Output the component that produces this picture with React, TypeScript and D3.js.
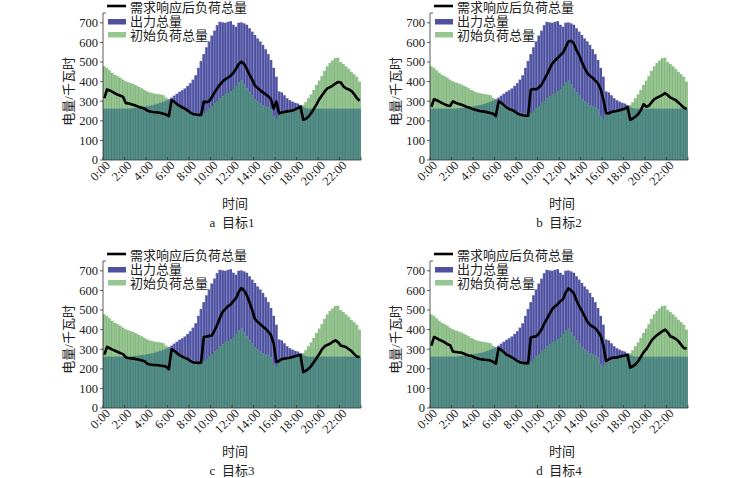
import React from 'react';
import * as d3 from 'd3';

// 96 quarter-hour slots, one row per two hours
const timeLabels = ['0:00', '2:00', '4:00', '6:00', '8:00', '10:00', '12:00', '14:00', '16:00', '18:00', '20:00', '22:00'];
const yTicks = [0, 100, 200, 300, 400, 500, 600, 700];
const legendLabels = ['需求响应后负荷总量', '出力总量', '初始负荷总量'];
const captions = ['a  目标1', 'b  目标2', 'c  目标3', 'd  目标4'];

// 出力总量
const supplyTotal = [
  262, 262, 262, 262, 262, 262, 262, 262,
  262, 262, 263, 265, 266, 268, 270, 272,
  275, 277, 280, 283, 287, 292, 297, 303,
  310, 318, 328, 338, 348, 356, 365, 378,
  392, 410, 432, 470, 505, 540, 575, 605,
  635, 660, 688, 705, 702, 700, 705, 708,
  690, 680, 700, 702, 697, 690, 672, 655,
  638, 620, 605, 587, 565, 540, 510, 470,
  425, 350, 345, 330, 315, 305, 298, 292,
  288, 280, 272, 265, 262, 262, 262, 262,
  262, 262, 262, 262, 262, 262, 262, 262,
  262, 262, 262, 262, 262, 262, 262, 262,
];

// 初始负荷总量
const initialLoad = [
  478, 470, 458, 445, 435, 428, 420, 410,
  402, 396, 392, 387, 380, 373, 366, 357,
  350, 345, 341, 338, 336, 334, 331, 318,
  305, 298, 292, 285, 278, 270, 262, 255,
  248, 242, 236, 233, 235, 240, 250, 262,
  275, 288, 298, 315, 325, 335, 342, 352,
  362, 378, 395, 405, 385, 365, 345, 330,
  310, 298, 288, 280, 275, 268, 258, 225,
  210, 230, 238, 242, 248, 252, 256, 260,
  266, 272, 280, 295, 315, 335, 358, 383,
  405, 428, 455, 478, 495, 508, 520, 522,
  500, 490, 478, 465, 450, 438, 425, 400,
];

// 需求响应后负荷总量, one series per objective
const responseA = [
  316, 360, 355, 348, 340, 333, 328, 322,
  290, 288, 285, 281, 276, 270, 266, 262,
  252, 247, 245, 244, 242, 240, 236, 232,
  224, 305, 298, 285, 276, 268, 262, 252,
  242, 235, 232, 230, 230, 298, 295, 300,
  320, 345, 365, 385, 400, 412, 420, 430,
  445, 465, 490, 502, 490, 465, 435, 410,
  380, 368, 355, 345, 335, 325, 310, 262,
  298, 238, 242, 245, 248, 250, 252, 258,
  265, 272, 205, 210, 222, 240, 262, 285,
  310, 330, 350, 365, 372, 380, 390, 398,
  395, 375, 365, 360, 352, 335, 315, 302,
];

const responseB = [
  272, 310, 305, 298, 290, 284, 278, 276,
  299, 292, 287, 283, 278, 272, 268, 262,
  258, 254, 250, 248, 246, 243, 240, 236,
  224, 300, 292, 280, 268, 260, 255, 248,
  238, 232, 228, 226, 226, 358, 362, 360,
  370, 384, 410, 435, 465, 492, 508, 520,
  535, 548, 575, 605, 608, 595, 560, 535,
  500, 470, 444, 430, 420, 405, 392, 360,
  310, 240, 238, 245, 248, 250, 254, 258,
  262, 270, 205, 212, 222, 235, 255, 285,
  272, 278, 295, 310, 318, 325, 332, 341,
  330, 318, 312, 305, 292, 280, 266, 262,
];

const responseC = [
  272, 312, 305, 298, 292, 286, 280, 275,
  258, 255, 253, 252, 249, 246, 242, 238,
  226, 222, 220, 219, 218, 216, 214, 211,
  198, 300, 292, 280, 270, 262, 256, 250,
  240, 233, 231, 230, 231, 362, 365, 368,
  370, 395, 425, 460, 490, 505, 520, 528,
  545, 560, 592, 612, 600, 575, 540, 500,
  455, 440, 428, 415, 405, 390, 372, 330,
  235, 240, 250, 252, 254, 256, 260, 264,
  268, 270, 184, 190, 200, 215, 235, 255,
  275, 300, 315, 322, 328, 338, 345, 335,
  318, 315, 310, 300, 290, 275, 262, 260,
];

const responseD = [
  318, 362, 356, 348, 342, 335, 325, 320,
  288, 286, 284, 283, 278, 272, 268, 266,
  258, 254, 250, 248, 246, 245, 242, 236,
  226, 304, 296, 285, 272, 266, 258, 250,
  240, 233, 230, 229, 228, 360, 364, 365,
  380, 400, 430, 455, 480, 505, 518, 530,
  545, 555, 590, 610, 600, 585, 550, 520,
  495, 470, 441, 425, 415, 407, 390, 369,
  320, 240, 248, 255, 257, 258, 262, 265,
  268, 270, 206, 214, 223, 240, 262, 285,
  300, 322, 345, 360, 372, 382, 392, 400,
  385, 365, 360, 352, 340, 322, 305, 304,
];

const responses = [responseA, responseB, responseC, responseD];

const FONT = "'Liberation Serif', 'Noto Sans CJK SC', serif";
const BLUE = '#4e51a0';
const GREEN = '#96c790';
const TEAL = '#528f88';

const plotW = 258;
const plotH = 147;
const panelPos = [
  { left: 103, top: 13 },
  { left: 430, top: 13 },
  { left: 103, top: 261 },
  { left: 430, top: 261 },
];

function Panel({ left, top, response, caption }: { left: number; top: number; response: number[]; caption: string }) {
  const idx = d3.range(supplyTotal.length);
  const x = d3.scaleBand<number>().domain(idx).range([0, plotW]).padding(0);
  const y = d3.scaleLinear().domain([0, 750]).range([plotH, 0]);
  const bw = x.bandwidth();

  const line = d3.line<number>()
    .x((_, i) => (x(i) as number) + bw / 2)
    .y(d => y(d));

  return (
    <g transform={`translate(${left},${top})`} fontFamily={FONT} fill="#222">
      {/* bars: output, initial load, and where they overlap */}
      {idx.map(i => {
        const bx = x(i) as number;
        const lo = Math.min(supplyTotal[i], initialLoad[i]);
        const hi = Math.max(supplyTotal[i], initialLoad[i]);
        const upper = supplyTotal[i] > initialLoad[i] ? '#8083c0' : '#6f9f69';
        return (
          <g key={i}>
            <rect x={bx} y={y(supplyTotal[i])} width={bw} height={plotH - y(supplyTotal[i])} fill={BLUE} />
            <rect x={bx} y={y(initialLoad[i])} width={bw} height={plotH - y(initialLoad[i])} fill={GREEN} />
            <rect x={bx} y={y(lo)} width={bw} height={plotH - y(lo)} fill={TEAL} />
            <line x1={bx + 0.3} x2={bx + 0.3} y1={y(hi)} y2={y(lo)} stroke={upper} strokeWidth={0.6} />
            <line x1={bx + 0.3} x2={bx + 0.3} y1={y(lo)} y2={plotH} stroke="#2f5f5a" strokeWidth={0.6} opacity={0.7} />
          </g>
        );
      })}

      <path d={line(response) ?? ''} fill="none" stroke="#000" strokeWidth={2.6} strokeLinejoin="round" />

      {/* y axis */}
      <line x1={0} x2={0} y1={y(750)} y2={plotH} stroke="#333" strokeWidth={0.8} />
      <line x1={0} x2={3} y1={y(750)} y2={y(750)} stroke="#333" strokeWidth={0.8} />
      {yTicks.map(t => (
        <g key={t} transform={`translate(0,${y(t)})`}>
          <line x1={-3} x2={0} stroke="#333" strokeWidth={0.8} />
          <text x={-5} dy="0.35em" textAnchor="end" fontSize={12.5}>{t}</text>
        </g>
      ))}
      <text transform={`translate(-35,${y(350)}) rotate(-90)`} textAnchor="middle" dy="0.35em" fontSize={13}>电量/千瓦时</text>

      {/* x axis */}
      <line x1={0} x2={plotW} y1={plotH} y2={plotH} stroke="#333" strokeWidth={0.8} />
      {d3.range(timeLabels.length + 1).map(k => {
        const tx = k < timeLabels.length ? (x(k * 8) as number) : plotW;
        return <line key={k} x1={tx} x2={tx} y1={plotH} y2={plotH - 3} stroke="#333" strokeWidth={0.8} />;
      })}
      {timeLabels.map((lab, k) => (
        <text key={lab} transform={`translate(${(x(k * 8) as number) + 8},${plotH + 6}) rotate(-45)`} textAnchor="end" fontSize={12.5}>{lab}</text>
      ))}
      <text x={132} y={190} dy="0.35em" textAnchor="middle" fontSize={13}>时间</text>
      <text x={129} y={209} dy="0.35em" textAnchor="middle" fontSize={13} xmlSpace="preserve">{caption}</text>

      {/* legend */}
      <line x1={4} x2={23} y1={-7} y2={-7} stroke="#000" strokeWidth={2.6} />
      <text x={27} y={-6} dy="0.35em" fontSize={13}>{legendLabels[0]}</text>
      <rect x={5} y={6} width={18} height={5.5} fill={BLUE} />
      <text x={27} y={8.5} dy="0.35em" fontSize={13}>{legendLabels[1]}</text>
      <rect x={5} y={19} width={18} height={5.5} fill={GREEN} />
      <text x={27} y={22} dy="0.35em" fontSize={13}>{legendLabels[2]}</text>
    </g>
  );
}

export default function App() {
  return (
    <svg width={750} height={478} style={{ position: 'absolute', left: 0, top: 0, background: '#fff' }}>
      {panelPos.map((p, k) => (
        <Panel key={k} left={p.left} top={p.top} response={responses[k]} caption={captions[k]} />
      ))}
    </svg>
  );
}
